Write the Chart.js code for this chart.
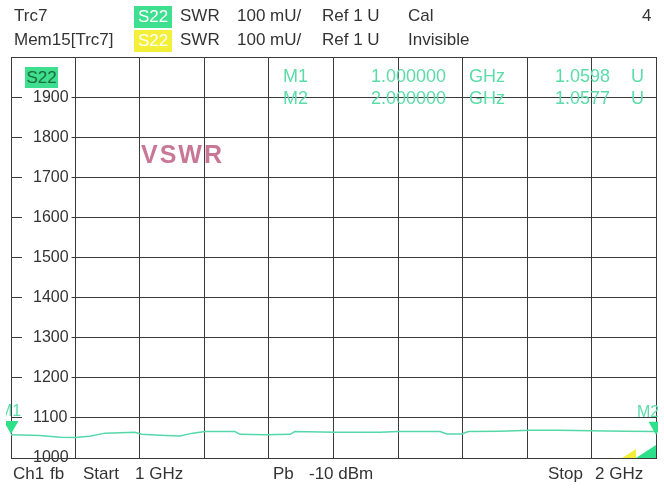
<!DOCTYPE html>
<html>
<head>
<meta charset="utf-8">
<script src="https://cdn.jsdelivr.net/npm/chart.js@4"></script>
<style>
  html, body { margin:0; padding:0; background:#fff; }
  #wrap { position:relative; width:664px; height:490px; overflow:hidden; background:#fff; }
  #c { position:absolute; left:0; top:0; }
  .t { position:absolute; font-family:"Liberation Sans", Arial, sans-serif; font-size:17px; line-height:20px; white-space:pre; color:#333; }
  .box { position:absolute; font-family:"Liberation Sans", Arial, sans-serif; font-size:17px; text-align:center; color:#fff; }
  .mk { position:absolute; font-family:"Liberation Sans", Arial, sans-serif; font-size:18px; line-height:20px; white-space:pre; color:#5cdca8; }
  .vswr { position:absolute; font-family:"Liberation Sans", Arial, sans-serif; font-size:25px; font-weight:bold; letter-spacing:2px; line-height:30px; color:#c87896; }
</style>
</head>
<body>
<div id="wrap">
  <canvas id="c" width="664" height="490"></canvas>
  <!-- header row 1 -->
  <div class="t" style="left:14px;top:6px;">Trc7</div>
  <div class="box" style="left:134px;top:6px;width:38px;height:22px;line-height:22px;background:#3ee08f;">S22</div>
  <div class="t" style="left:180px;top:6px;">SWR</div>
  <div class="t" style="left:237px;top:6px;">100 mU/</div>
  <div class="t" style="left:322px;top:6px;">Ref 1 U</div>
  <div class="t" style="left:408px;top:6px;">Cal</div>
  <div class="t" style="left:642px;top:6px;">4</div>
  <!-- header row 2 -->
  <div class="t" style="left:14px;top:30px;">Mem15[Trc7]</div>
  <div class="box" style="left:134px;top:30px;width:38px;height:22px;line-height:22px;background:#f4f03a;">S22</div>
  <div class="t" style="left:180px;top:30px;">SWR</div>
  <div class="t" style="left:237px;top:30px;">100 mU/</div>
  <div class="t" style="left:322px;top:30px;">Ref 1 U</div>
  <div class="t" style="left:408px;top:30px;">Invisible</div>
  <!-- in-plot trace label -->
  <div class="box" style="left:25px;top:67px;width:33px;height:21px;line-height:21px;background:#3ee08f;color:#1e6e40;">S22</div>
  <div class="vswr" style="left:141px;top:139px;">VSWR</div>
  <!-- marker readouts (filled from data) -->
  <div id="markerRows"></div>
  <!-- footer -->
  <div class="t" style="left:13px;top:464px;">Ch1</div>
  <div class="t" style="left:50px;top:464px;">fb</div>
  <div class="t" style="left:83px;top:464px;">Start</div>
  <div class="t" style="left:135px;top:464px;">1 GHz</div>
  <div class="t" style="left:273px;top:464px;">Pb</div>
  <div class="t" style="left:309px;top:464px;">-10 dBm</div>
  <div class="t" style="left:548px;top:464px;">Stop</div>
  <div class="t" style="left:595px;top:464px;">2 GHz</div>
</div>
<script>
// ---- data ----
const freqs = [1.000, 1.045, 1.076, 1.099, 1.122, 1.146, 1.192, 1.203, 1.231, 1.262,
               1.282, 1.301, 1.347, 1.355, 1.394, 1.433, 1.440, 1.502, 1.572, 1.600,
               1.665, 1.676, 1.699, 1.709, 1.758, 1.805, 1.851, 1.898, 1.952, 2.000];
const swrValues = [1058, 1056, 1052, 1051, 1054, 1062, 1064, 1059, 1057, 1055,
                   1062, 1066, 1066, 1059, 1058, 1059, 1066, 1064, 1064, 1066,
                   1066, 1060, 1060, 1066, 1067, 1069, 1069, 1068, 1067, 1066];
const markerNames = ['M1', 'M2'];
const markerFreqs = [1.0, 2.0];
const markerValues = [1059.8, 1057.7];
const yMin = 1000, yMax = 2000, yStep = 100;
const xMin = 1, xMax = 2, xStep = 0.1;

// marker readout text
const rows = document.getElementById('markerRows');
markerNames.forEach((name, i) => {
  const top = 66 + i * 22;
  rows.insertAdjacentHTML('beforeend',
    `<div class="mk" style="left:283px;top:${top}px;">${name}</div>` +
    `<div class="mk" style="right:${664-446}px;top:${top}px;">${markerFreqs[i].toFixed(6)}</div>` +
    `<div class="mk" style="left:469px;top:${top}px;">GHz</div>` +
    `<div class="mk" style="right:${664-610}px;top:${top}px;">${(markerValues[i]/1000).toFixed(4)}</div>` +
    `<div class="mk" style="left:631px;top:${top}px;">U</div>`);
});

const gridColor = '#3a3a3a';
const traceColor = '#55d8a8';
const markerColor = '#2fe08a';

const framePlugin = {
  id: 'frame',
  beforeDatasetsDraw(chart) {
    const {ctx, chartArea: a} = chart;
    ctx.save();
    ctx.strokeStyle = gridColor;
    ctx.lineWidth = 1;
    ctx.strokeRect(Math.round(a.left) + 0.5, Math.round(a.top) + 0.5,
                   Math.round(a.right - a.left), Math.round(a.bottom - a.top));
    ctx.restore();
  },
  afterDatasetsDraw(chart) {
    const {ctx, chartArea: a, scales} = chart;
    ctx.save();
    // corner indicators (bottom right)
    ctx.fillStyle = '#f2ef3a';
    ctx.beginPath();
    ctx.moveTo(a.right - 34, a.bottom);
    ctx.lineTo(a.right - 20, a.bottom - 9);
    ctx.lineTo(a.right - 20, a.bottom);
    ctx.closePath(); ctx.fill();
    ctx.fillStyle = markerColor;
    ctx.beginPath();
    ctx.moveTo(a.right - 20, a.bottom);
    ctx.lineTo(a.right, a.bottom - 13);
    ctx.lineTo(a.right, a.bottom);
    ctx.closePath(); ctx.fill();
    // markers
    ctx.beginPath();
    ctx.rect(6, 0, 652, chart.height);
    ctx.clip();
    markerNames.forEach((name, i) => {
      const px = scales.x.getPixelForValue(markerFreqs[i]);
      const py = scales.y.getPixelForValue(markerValues[i]);
      ctx.fillStyle = markerColor;
      ctx.beginPath();
      ctx.moveTo(px, py);
      ctx.lineTo(px - 7.5, py - 13);
      ctx.lineTo(px + 7.5, py - 13);
      ctx.closePath(); ctx.fill();
      ctx.fillStyle = '#5cdca8';
      ctx.font = '16px "Liberation Sans", Arial, sans-serif';
      ctx.textAlign = 'center';
      ctx.textBaseline = 'alphabetic';
      ctx.fillText(name, px + (i === 0 ? -1 : -8), py - 18);
    });
    ctx.restore();
  }
};

new Chart(document.getElementById('c'), {
  type: 'line',
  data: {
    datasets: [{
      label: 'S22 SWR',
      data: freqs.map((f, i) => ({x: f, y: swrValues[i]})),
      borderColor: traceColor,
      borderWidth: 1.5,
      pointRadius: 0,
      tension: 0,
      fill: false
    }]
  },
  options: {
    responsive: false,
    animation: false,
    devicePixelRatio: 1,
    layout: { padding: { left: 11, right: 8, top: 57, bottom: 32 } },
    plugins: { legend: { display: false }, tooltip: { enabled: false }, title: { display: false } },
    scales: {
      x: {
        type: 'linear', min: xMin, max: xMax,
        ticks: { display: false, stepSize: xStep },
        grid: { color: gridColor, lineWidth: 1, drawTicks: false },
        border: { display: false },
        afterFit(scale) { scale.height = 0; }
      },
      y: {
        type: 'linear', min: yMin, max: yMax,
        ticks: {
          stepSize: yStep,
          mirror: true,
          padding: 22,
          crossAlign: 'near',
          color: '#333',
          font: { family: '"Liberation Sans", Arial, sans-serif', size: 16 },
          showLabelBackdrop: true,
          backdropColor: '#ffffff',
          backdropPadding: { left: 11, right: 3, top: 0, bottom: 0 },
          callback: (v) => (v >= yMax ? null : String(v))
        },
        grid: { color: gridColor, lineWidth: 1, drawTicks: false },
        border: { display: false },
        afterFit(scale) { scale.width = 0; }
      }
    }
  },
  plugins: [framePlugin]
});
</script>
</body>
</html>
